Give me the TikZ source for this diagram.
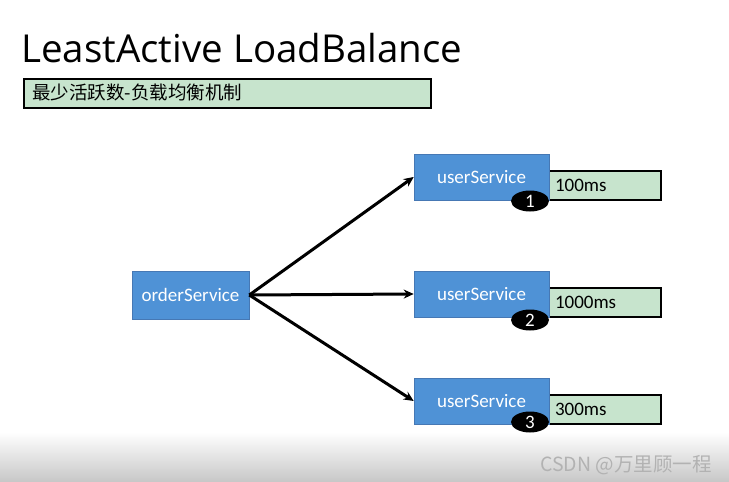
\documentclass[tikz,border=0pt]{standalone}
\usepackage{fontspec}
\setmainfont{Carlito}
\newfontfamily\titlefont{Open Sans}
\newfontfamily\cjkfont{Noto Sans CJK SC}
\usetikzlibrary{arrows.meta,shapes.geometric}
\definecolor{svcblue}{RGB}{79,146,214}
\definecolor{svcborder}{RGB}{70,120,180}
\definecolor{lblgreen}{RGB}{199,228,205}
\tikzset{
  svc/.style={draw=svcborder,line width=0.6pt,fill=svcblue,text=white,minimum width=#1,font=\fontsize{19}{22}\selectfont,inner sep=0pt},
  lbl/.style={draw=black,line width=2pt,fill=lblgreen,minimum width=112pt,minimum height=29pt,anchor=north west,font=\fontsize{19}{22}\selectfont,align=left,text width=100pt,inner xsep=6pt,inner ysep=0pt},
  badge/.style={ellipse,fill=black,text=white,minimum width=38pt,minimum height=21pt,inner sep=0pt,font=\fontsize{19}{22}\selectfont},
  conn/.style={-{Stealth[length=10pt,width=9pt]},line width=3pt,black}
}
\begin{document}
\begin{tikzpicture}[x=1pt,y=-1pt]
\useasboundingbox (0,0) rectangle (729,482);
\fill[white] (0,0) rectangle (729,482);
\shade[top color=white,bottom color=black!22] (0,432) rectangle (729,482);
% title
\node[anchor=base west,inner sep=0pt,font=\titlefont\fontsize{38.5}{42}\selectfont] (title) at (21,62) {LeastActive LoadBalance};
\node[draw=black,line width=2pt,fill=lblgreen,anchor=north west,minimum width=407pt,minimum height=29pt,inner sep=0pt] (sub) at (23,78) {};
\node[anchor=west,inner sep=0pt,font=\cjkfont\fontsize{18.5}{20}\selectfont] (subtxt) at (32,92.5) {最少活跃数-负载均衡机制};
% service boxes
\node[svc=117pt,minimum height=48pt] (order) at (190.5,295) {orderService};
\node[lbl] (l1) at (548,170) {100ms};
\node[lbl] (l2) at (548,287) {1000ms};
\node[lbl] (l3) at (548,394) {300ms};
\node[svc=135pt,minimum height=46pt] (u1) at (481.5,177) {userService};
\node[svc=135pt,minimum height=46pt] (u2) at (481.5,294) {userService};
\node[svc=135pt,minimum height=46pt] (u3) at (481.5,401) {userService};
\node[badge] (b1) at (530,201) {1};
\node[badge] (b2) at (530,320) {2};
\node[badge] (b3) at (530,422) {3};
% connectors
\coordinate (src) at (order.east);
\draw[conn] (src) -- (u1.west);
\draw[conn] (src) -- (u2.west);
\draw[conn] (src) -- (u3.west);
% watermark
\node[anchor=base west,inner sep=0pt,text=black!30,font=\cjkfont\fontsize{19.5}{22}\selectfont] (wm) at (540,471) {CSDN @万里顾一程};
\end{tikzpicture}
\end{document}
